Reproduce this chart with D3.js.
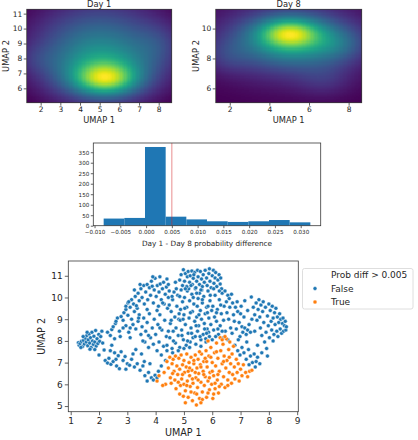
<!DOCTYPE html>
<html><head><meta charset="utf-8">
<script src="https://cdn.jsdelivr.net/npm/d3@7/dist/d3.min.js"></script>
<style>
body{margin:0;background:#fff}
text{font-family:"DejaVu Sans",sans-serif;fill:#262626}
</style>
</head><body>
<svg id="c" width="418" height="440"></svg>
<script>
// ---------- DATA ----------
// Density surfaces (Gaussian components)
const day1Components = [
  {cx:5.3, cy:6.65, sx:1.05, sy:0.7,  w:0.50},
  {cx:5.2, cy:7.0,  sx:1.7,  sy:1.2,  w:0.30},
  {cx:5.0, cy:8.6,  sx:2.5,  sy:2.3,  w:0.50},
  {cx:8.0, cy:9.0,  sx:0.8,  sy:1.0,  w:0.10},
  {cx:1.8, cy:8.0,  sx:0.7,  sy:0.7,  w:0.06}
];
const day8Components = [
  {cx:5.0, cy:9.75, sx:1.0,  sy:0.65, w:0.45},
  {cx:5.4, cy:9.3,  sx:1.8,  sy:1.0,  w:0.30},
  {cx:5.0, cy:9.2,  sx:2.4,  sy:1.7,  w:0.40},
  {cx:7.6, cy:8.9,  sx:0.9,  sy:0.8,  w:0.12},
  {cx:6.8, cy:6.6,  sx:1.0,  sy:0.8,  w:0.10},
  {cx:1.9, cy:8.2,  sx:0.8,  sy:0.8,  w:0.10}
];
const heatTicksX = [2,3,4,5,6,7,8];
const heat1TicksY = [6,7,8,9,10,11];
const heat2TicksX = [2,4,6,8];
const heat2TicksY = [6,8,10];

// Histogram of Day 1 - Day 8 probability difference
const histEdges = [-0.00823,-0.00422,-0.00021,0.00380,0.00781,0.01182,0.01583,0.01984,0.02385,0.02786,0.03187];
const histCounts = [34,37,375,43,30,21,18,21,27,16];
const histThreshold = 0.005;
const histTicksX = [-0.010,-0.005,0.000,0.005,0.010,0.015,0.020,0.025,0.030];
const histTicksY = [0,50,100,150,200,250,300,350];

// Scatter: points with Prob diff > 0.005 == False
const pointsFalse = [
[1.27,7.92],[1.30,7.80],[1.33,7.88],[1.38,7.98],[1.42,7.74],[1.45,8.02],[1.48,7.86],[1.52,8.12],[1.55,7.95],[1.57,8.25],[1.60,7.78],[1.62,8.05],[1.65,8.32],[1.67,7.90],[1.70,8.15],[1.72,7.70],[1.75,8.40],[1.77,8.00],[1.80,7.84],[1.82,8.22],[1.85,7.95],[1.88,8.48],[1.90,7.76],[1.93,8.10],[1.96,7.88],[1.99,8.30],[2.02,7.98],[2.06,8.20],[2.10,8.45],[2.13,7.90],[1.58,8.40],[1.44,8.20],[1.68,7.62],[1.36,7.70],[2.00,7.35],[1.85,7.60],
[2.18,7.58],[2.22,7.10],[2.30,6.98],[2.35,7.20],[2.42,6.92],[2.50,7.05],[2.55,7.45],[2.62,6.85],[2.68,7.32],[2.72,6.72],[2.78,7.50],[2.85,7.10],[2.92,7.28],[3.00,6.95],[3.08,6.88],[3.15,7.15],[3.25,6.80],[3.35,6.95],[3.45,6.65],[3.55,6.85],[3.62,6.40],[3.70,6.15],[3.75,6.55],[3.85,6.30],[3.92,6.20],[3.98,6.42],[4.05,6.30],[3.80,6.95],[3.60,7.05],[3.50,7.40],[2.40,7.55],[2.60,7.15],[3.20,7.40],[2.95,6.70],[4.10,6.60],[4.20,6.85],
[2.30,8.40],[2.40,8.25],[2.45,8.52],[2.55,8.10],[2.58,8.80],[2.65,9.05],[2.72,8.45],[2.78,9.12],[2.85,8.95],[2.88,9.30],[2.95,8.70],[3.02,9.18],[3.05,8.40],[3.10,8.15],[3.15,9.00],[3.20,8.75],[3.25,9.35],[3.30,8.55],[3.38,8.90],[3.42,9.20],[3.48,8.30],[3.52,8.65],[3.58,9.05],[3.62,7.95],[3.65,8.45],[3.70,8.85],[3.75,7.70],[3.78,9.25],[3.82,8.15],[3.88,8.60],[3.92,7.85],[3.95,9.00],[4.00,8.30],[4.05,7.55],[4.08,8.75],[4.12,7.95],[4.15,9.20],[4.20,7.35],[4.22,8.50],[4.28,7.75],[4.32,8.95],[4.35,7.10],[4.38,8.20],[4.40,7.55],[2.50,8.65],[2.95,9.45],[3.35,9.50],[3.70,9.45],[2.75,8.20],[3.10,8.60],
[2.95,9.60],[3.02,9.75],[3.10,9.55],[3.15,9.90],[3.22,9.70],[3.28,10.05],[3.32,9.62],[3.38,10.20],[3.42,9.85],[3.48,10.40],[3.52,10.00],[3.58,10.55],[3.60,9.70],[3.65,10.25],[3.70,10.60],[3.72,9.90],[3.78,10.45],[3.82,10.10],[3.88,10.52],[3.92,9.75],[3.95,10.35],[3.98,10.88],[4.02,10.05],[4.06,10.55],[4.10,9.60],[4.12,10.25],[4.16,10.62],[4.20,9.90],[4.24,10.40],[4.28,10.70],[4.30,9.70],[4.34,10.15],[4.38,10.48],[4.42,9.50],[4.45,10.00],[4.48,10.30],[3.45,10.60],[3.85,10.75],[4.40,10.85],[3.25,10.35],
[4.50,8.15],[4.52,8.80],[4.55,9.35],[4.58,7.65],[4.60,9.90],[4.62,8.45],[4.65,10.25],[4.68,9.10],[4.70,7.90],[4.72,8.60],[4.75,9.60],[4.78,10.10],[4.80,8.25],[4.82,9.00],[4.85,7.70],[4.88,9.45],[4.90,10.35],[4.92,8.50],[4.95,9.80],[4.98,8.05],[5.00,9.20],[5.02,10.00],[5.05,8.75],[5.08,7.80],[5.10,9.55],[5.12,10.30],[5.15,8.35],[5.18,9.05],[5.20,9.85],[5.22,7.95],[5.25,8.60],[5.28,10.15],[5.30,9.35],[5.32,8.15],[5.35,9.70],[5.38,8.90],[5.40,10.40],[5.42,7.85],[5.45,9.10],[5.48,8.45],[5.50,9.95],[5.52,8.70],[5.55,10.20],[5.58,9.40],[5.60,8.05],[5.62,9.00],[5.65,9.75],[5.68,8.30],[5.70,10.05],[5.72,8.80],[5.75,9.25],[5.78,7.95],[5.80,9.55],[5.82,8.55],[5.85,10.30],[5.88,9.05],[5.90,8.20],[5.92,9.85],[5.95,8.75],[5.98,9.40],[4.45,8.45],[4.48,9.65],[4.63,8.00],[4.73,10.40],[4.83,9.25],[4.93,8.25],[5.03,9.50],[5.13,8.00],[5.23,9.30],[5.33,10.00],[5.43,8.70],[5.53,9.20],[5.63,10.35],[5.73,8.55],[5.83,9.30],[5.93,10.10],[4.58,10.05],[4.87,8.95],[5.17,10.40],[5.47,9.60],[5.77,8.10],[4.97,9.00],[5.27,8.35],[5.57,8.20],[5.87,8.40],
[4.85,10.80],[4.90,11.05],[4.95,10.55],[4.98,11.28],[5.02,10.75],[5.05,11.10],[5.10,10.50],[5.12,10.95],[5.15,11.20],[5.20,10.70],[5.22,11.00],[5.28,11.22],[5.30,10.60],[5.33,10.88],[5.38,11.15],[5.42,10.45],[5.45,10.75],[5.48,11.25],[5.50,10.95],[5.55,10.60],[5.58,11.20],[5.62,10.85],[5.65,10.50],[5.68,11.05],[5.72,10.70],[5.75,11.25],[5.80,10.90],[5.82,10.55],[5.88,11.10],[5.90,11.32],[5.92,10.75],[5.96,10.45],[6.00,11.00],[6.04,11.25],[6.06,10.65],[6.10,10.90],[6.12,11.15],[6.16,10.50],[6.20,10.80],[6.24,11.05],[6.28,10.62],[6.30,10.90],[6.33,10.40],[5.35,11.05],[5.60,10.35],
[6.02,9.60],[6.05,8.50],[6.08,9.10],[6.10,10.10],[6.15,8.90],[6.18,9.45],[6.22,8.30],[6.25,9.90],[6.28,8.70],[6.32,9.25],[6.35,10.20],[6.40,8.95],[6.42,9.60],[6.46,8.45],[6.50,9.80],[6.52,9.30],[6.55,10.10],[6.58,9.00],[6.62,9.55],[6.65,8.60],[6.68,10.15],[6.72,9.75],[6.75,9.20],[6.78,8.90],[6.82,9.55],[6.85,8.55],[6.90,9.35],[6.95,8.85],[6.98,8.20],[7.02,9.60],[7.05,8.65],[7.08,8.40],[7.12,9.10],[7.15,8.60],[7.20,8.30],[7.25,8.50],[7.30,8.75],[7.35,8.40],[7.38,10.02],[6.30,9.65],[6.60,9.95],[6.88,9.80],[7.00,9.25],[6.12,8.20],[6.40,8.15],[6.70,8.35],[6.92,8.05],[7.22,7.95],[6.55,8.05],
[7.45,9.55],[7.50,9.20],[7.55,9.75],[7.58,8.95],[7.62,9.45],[7.65,9.90],[7.68,9.10],[7.70,8.60],[7.72,9.65],[7.75,8.25],[7.78,9.35],[7.80,9.80],[7.82,8.85],[7.85,7.95],[7.88,9.55],[7.90,8.40],[7.92,7.65],[7.95,9.15],[7.98,8.70],[8.00,9.70],[8.02,8.15],[8.05,9.40],[8.08,8.90],[8.10,8.50],[8.12,9.60],[8.15,9.05],[8.18,8.30],[8.20,9.30],[8.22,8.75],[8.25,9.50],[8.28,8.45],[8.30,9.10],[8.32,8.20],[8.35,8.85],[8.38,9.25],[8.40,8.55],[8.42,9.00],[8.45,8.35],[8.48,8.80],[8.50,9.05],[8.52,8.45],[8.55,8.70],[8.58,8.90],[8.60,8.50],[8.62,8.65],[7.60,7.80],[7.75,7.45],[7.95,7.30],[8.15,8.00],[7.50,8.45],
[6.80,7.80],[6.90,7.55],[6.98,7.35],[7.05,7.70],[7.12,7.45],[7.20,7.15],[7.28,7.60],[7.35,7.30],[7.42,7.00],[7.48,7.40],[7.55,7.05],[7.60,7.25],[7.68,6.95],[7.30,6.90],[7.52,6.80],
[2.60,8.90],[2.85,8.60],[3.05,9.80],[3.40,9.05],[3.55,8.00],[3.75,8.25],[4.05,9.40],[4.25,9.75],[4.45,10.60],[4.55,8.95],[4.70,10.70],[4.85,10.05],[5.05,10.40],[5.25,10.55],[5.45,10.20],[5.65,9.90],[5.85,9.60],[6.05,10.40],[6.25,10.30],[6.45,10.30],[4.40,7.80],[4.60,7.45],[4.80,7.55],[5.00,7.65],[5.20,7.70],[5.40,8.20],[5.60,7.75],[5.80,8.35],[6.00,8.05],[6.20,8.55],[4.15,8.60],[3.30,7.60],[2.45,7.80],[3.90,10.95],[4.15,10.95],[6.15,9.30],[6.35,8.45],[7.40,9.00],[7.25,9.40],[7.15,9.85]
];
// Scatter: points with Prob diff > 0.005 == True
const pointsTrue = [
[4.05,6.15],[4.12,6.40],[4.30,6.55],[4.35,6.00],[4.40,7.05],[4.45,6.75],[4.50,7.25],[4.52,6.30],[4.58,6.95],[4.62,7.15],[4.65,6.60],[4.70,7.30],[4.72,5.80],[4.75,6.85],[4.78,6.45],[4.82,7.20],[4.85,6.70],[4.88,5.95],[4.90,7.35],[4.92,6.25],[4.95,6.90],[4.98,5.45],[5.00,7.10],[5.02,6.55],[5.05,5.70],[5.08,6.80],[5.10,7.40],[5.12,6.15],[5.15,5.40],[5.18,7.00],[5.20,6.40],[5.22,5.90],[5.25,7.25],[5.28,6.65],[5.30,5.25],[5.32,6.05],[5.35,6.95],[5.38,5.60],[5.40,7.35],[5.42,6.30],[5.44,5.05],[5.46,6.75],[5.48,5.85],[5.50,7.15],[5.52,6.50],[5.55,5.35],[5.58,6.90],[5.60,6.10],[5.62,7.40],[5.65,5.65],[5.68,6.60],[5.70,7.05],[5.72,5.95],[5.75,6.35],[5.78,7.55],[5.80,5.40],[5.82,6.80],[5.85,6.15],[5.88,7.30],[5.90,5.75],[5.92,6.55],[5.95,7.70],[5.98,6.00],[6.00,7.00],[6.02,5.35],[6.05,6.40],[6.08,7.45],[6.10,5.80],[6.12,6.85],[6.15,7.90],[6.18,6.20],[6.20,7.20],[6.22,5.60],[6.25,6.60],[6.28,8.15],[6.30,7.55],[6.32,6.00],[6.35,6.95],[6.38,7.85],[6.40,6.35],[6.42,7.30],[6.45,5.85],[6.48,6.75],[6.50,8.10],[6.52,7.10],[6.55,6.20],[6.58,7.60],[6.60,6.55],[6.62,7.95],[6.65,6.95],[6.68,6.05],[6.70,7.40],[6.72,6.45],[6.75,7.75],[6.78,6.80],[6.80,6.25],[6.85,7.15],[6.88,6.55],[6.92,6.95],[6.95,6.15],[7.00,6.70],[7.05,6.40],[7.10,6.90],[7.18,6.55],[7.25,6.35],[7.32,6.60],[7.40,6.65],[6.45,8.20],[6.35,8.05],[5.85,8.00],[4.60,6.50],[4.80,6.10],[5.00,6.00],[5.20,6.75],[5.40,6.55],[5.60,6.80],[5.80,7.05],[6.00,6.60],[6.20,6.45],[6.40,7.05],[6.60,7.25],[5.10,5.95],[5.30,6.25],[5.50,6.20],[5.70,6.45],[5.90,6.30],[6.10,6.05],[5.15,6.60],[5.35,7.10],[5.55,7.50],[5.75,7.20],[5.95,7.25],[6.15,7.50],[4.95,6.45],[5.25,5.65],[5.45,5.55],[5.65,5.30],[5.85,5.60],[6.05,5.55],[4.68,6.20],[4.55,6.05],[4.25,5.95],[4.85,5.55],[5.05,5.15],[5.60,5.15],[6.25,5.90],[6.55,5.95]
];
const scatterTicksX = [1,2,3,4,5,6,7,8,9];
const scatterTicksY = [5,6,7,8,9,10,11];
const legendTitle = "Prob diff > 0.005";
const legendLabels = ["False","True"];
const seriesColors = ["#1f77b4","#ff7f0e"];

// ---------- DRAW ----------
const svg = d3.select("#c");
const FONT = '"DejaVu Sans",sans-serif';

function density(comps, x, y){
  let s = 0;
  for (const c of comps){
    s += c.w*Math.exp(-((x-c.cx)**2/(2*c.sx*c.sx) + (y-c.cy)**2/(2*c.sy*c.sy)));
  }
  return s;
}

function frame(g, x0, y0, x1, y1){
  g.append("rect").attr("x",x0).attr("y",y0).attr("width",x1-x0).attr("height",y1-y0)
   .attr("fill","none").attr("stroke","#3a3a3a").attr("stroke-width",0.8);
}

function styleAxis(sel, fs){
  sel.selectAll(".domain").remove();
  sel.selectAll(".tick line").attr("stroke","#3a3a3a").attr("stroke-width",0.8);
  sel.selectAll(".tick text").attr("font-family",FONT).attr("font-size",fs).attr("fill","#262626");
}

function heatmap(opts){
  const {comps, x0, x1, y0, y1, ticksX, ticksY, title, yLabelX} = opts;
  const xd = [1.29, 8.66], yd = [5.04, 11.29];
  const x = d3.scaleLinear().domain(xd).range([x0, x1]);
  const y = d3.scaleLinear().domain(yd).range([y1, y0]);
  const nx = 110, ny = 80;
  const cells = [];
  const dx = (xd[1]-xd[0])/nx, dy = (yd[1]-yd[0])/ny;
  for (let i=0;i<nx;i++) for (let j=0;j<ny;j++){
    const cx = xd[0]+(i+0.5)*dx, cy = yd[0]+(j+0.5)*dy;
    cells.push({i,j,v:density(comps,cx,cy)});
  }
  const vmax = d3.max(cells,d=>d.v), vmin = d3.min(cells,d=>d.v);
  const col = d3.scaleSequential(d3.interpolateViridis).domain([vmin, vmax]);
  const g = svg.append("g");
  g.selectAll("rect.cell").data(cells).join("rect").attr("class","cell")
    .attr("x",d=>x(xd[0]+d.i*dx)).attr("y",d=>y(yd[0]+(d.j+1)*dy))
    .attr("width",x(xd[0]+dx)-x(xd[0])+0.6).attr("height",y(yd[0])-y(yd[0]+dy)+0.6)
    .attr("fill",d=>col(d.v)).attr("shape-rendering","crispEdges");
  frame(g, x0, y0, x1, y1);
  const ax = g.append("g").attr("transform",`translate(0,${y1})`)
    .call(d3.axisBottom(x).tickValues(ticksX).tickSize(3).tickPadding(1).tickFormat(d3.format("d")));
  styleAxis(ax, 7.5);
  const ay = g.append("g").attr("transform",`translate(${x0},0)`)
    .call(d3.axisLeft(y).tickValues(ticksY).tickSize(3).tickPadding(1.5).tickFormat(d3.format("d")));
  styleAxis(ay, 7.5);
  g.append("text").attr("x",(x0+x1)/2).attr("y",7).attr("text-anchor","middle")
    .attr("font-size",8.3).text(title);
  g.append("text").attr("x",(x0+x1)/2).attr("y",122.5).attr("text-anchor","middle")
    .attr("font-size",8.3).text("UMAP 1");
  g.append("text").attr("transform",`translate(${yLabelX},${(y0+y1)/2}) rotate(-90)`)
    .attr("text-anchor","middle").attr("font-size",8.3).text("UMAP 2");
}

heatmap({comps:day1Components, x0:26.7, x1:171.7, y0:9.3, y1:102.7,
  ticksX:heatTicksX, ticksY:heat1TicksY, title:"Day 1", yLabelX:9});
heatmap({comps:day8Components, x0:215.7, x1:361.7, y0:9.3, y1:102.7,
  ticksX:heat2TicksX, ticksY:heat2TicksY, title:"Day 8", yLabelX:199});

// Histogram
(function(){
  const x0=93.3, x1=320.7, y0=143, y1=225.7;
  const x = d3.scaleLinear().domain([-0.01024, 0.03388]).range([x0,x1]);
  const y = d3.scaleLinear().domain([0, 394]).range([y1,y0]);
  const g = svg.append("g");
  const bins = histCounts.map((c,i)=>({a:histEdges[i], b:histEdges[i+1], c}));
  g.selectAll("rect.bar").data(bins).join("rect")
    .attr("x",d=>x(d.a)).attr("width",d=>x(d.b)-x(d.a))
    .attr("y",d=>y(d.c)).attr("height",d=>y(0)-y(d.c)).attr("fill","#1f77b4");
  g.append("line").attr("x1",x(histThreshold)).attr("x2",x(histThreshold))
    .attr("y1",y0).attr("y2",y1).attr("stroke","#d62728").attr("stroke-width",0.7).attr("opacity",0.75);
  frame(g,x0,y0,x1,y1);
  const ax = g.append("g").attr("transform",`translate(0,${y1})`)
    .call(d3.axisBottom(x).tickValues(histTicksX).tickSize(2.5).tickPadding(1.5)
      .tickFormat(d=>d3.format(".3f")(d).replace("-","\u2212")));
  styleAxis(ax, 5.6);
  const ay = g.append("g").attr("transform",`translate(${x0},0)`)
    .call(d3.axisLeft(y).tickValues(histTicksY).tickSize(2.5).tickPadding(1.5).tickFormat(d3.format("d")));
  styleAxis(ay, 5.6);
  g.append("text").attr("x",(x0+x1)/2).attr("y",245.5).attr("text-anchor","middle")
    .attr("font-size",7.3).text("Day 1 - Day 8 probability difference");
})();

// Scatter
(function(){
  const x0=68.3, x1=298.3, y0=261, y1=411.7;
  const x = d3.scaleLinear().domain([0.915, 9.04]).range([x0,x1]);
  const y = d3.scaleLinear().domain([4.74, 11.68]).range([y1,y0]);
  const g = svg.append("g");
  const series = [pointsFalse, pointsTrue];
  series.forEach((pts,k)=>{
    g.selectAll(null).data(pts).join("circle")
      .attr("cx",d=>x(d[0])).attr("cy",d=>y(d[1])).attr("r",2.0)
      .attr("fill",seriesColors[k]).attr("stroke","#fff").attr("stroke-width",0.45);
  });
  frame(g,x0,y0,x1,y1);
  const ax = g.append("g").attr("transform",`translate(0,${y1})`)
    .call(d3.axisBottom(x).tickValues(scatterTicksX).tickSize(3.5).tickPadding(2).tickFormat(d3.format("d")));
  styleAxis(ax, 9);
  const ay = g.append("g").attr("transform",`translate(${x0},0)`)
    .call(d3.axisLeft(y).tickValues(scatterTicksY).tickSize(3.5).tickPadding(2).tickFormat(d3.format("d")));
  styleAxis(ay, 9);
  g.append("text").attr("x",(x0+x1)/2).attr("y",436).attr("text-anchor","middle")
    .attr("font-size",9.6).text("UMAP 1");
  g.append("text").attr("transform",`translate(45,${(y0+y1)/2}) rotate(-90)`)
    .attr("text-anchor","middle").attr("font-size",9.6).text("UMAP 2");

  // legend
  const lg = svg.append("g");
  lg.append("rect").attr("x",302.5).attr("y",268.5).attr("width",110.5).attr("height",40.5)
    .attr("rx",2).attr("fill","#fff").attr("stroke","#d6d6d6").attr("stroke-width",0.8);
  lg.append("text").attr("x",331).attr("y",277.5).attr("font-size",9).text(legendTitle);
  legendLabels.forEach((lab,i)=>{
    const cy = 288.5 + i*13.5;
    lg.append("circle").attr("cx",315).attr("cy",cy).attr("r",2.0)
      .attr("fill",seriesColors[i]).attr("stroke","#fff").attr("stroke-width",0.45);
    lg.append("text").attr("x",331).attr("y",cy+3.2).attr("font-size",9).text(lab);
  });
})();
</script>
</body></html>
